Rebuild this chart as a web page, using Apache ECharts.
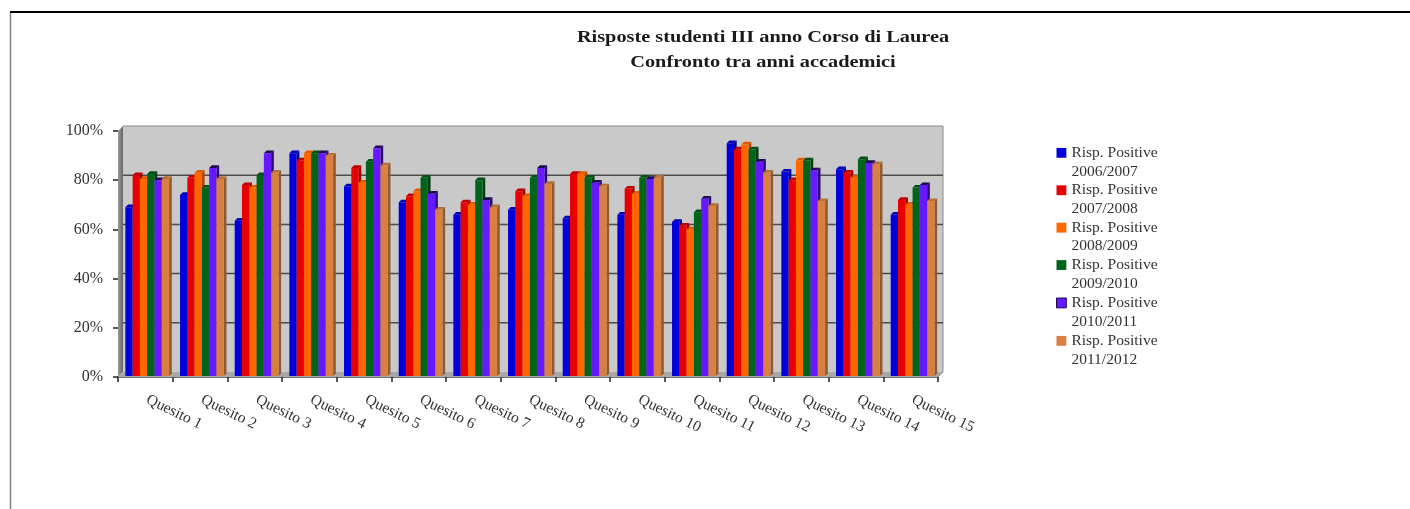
<!DOCTYPE html>
<html>
<head>
<meta charset="utf-8">
<title>Risposte studenti</title>
<script src="https://cdn.jsdelivr.net/npm/echarts@6/dist/echarts.min.js"></script>
<style>
html, body { margin: 0; padding: 0; background: #fff; }
#chart-container { width: 1410px; height: 509px; }
</style>
</head>
<body>
<div id="chart-container"></div>
<script>
var categories = ['Quesito 1', 'Quesito 2', 'Quesito 3', 'Quesito 4', 'Quesito 5', 'Quesito 6', 'Quesito 7', 'Quesito 8', 'Quesito 9', 'Quesito 10', 'Quesito 11', 'Quesito 12', 'Quesito 13', 'Quesito 14', 'Quesito 15'];
var seriesNames = ['Risp. Positive\n2006/2007', 'Risp. Positive\n2007/2008', 'Risp. Positive\n2008/2009', 'Risp. Positive\n2009/2010', 'Risp. Positive\n2010/2011', 'Risp. Positive\n2011/2012'];
var titleLines = ['Risposte studenti III anno Corso di Laurea', 'Confronto tra anni accademici'];

var y2006 = [69, 74, 63.5, 91, 77.5, 71, 66, 68, 64.5, 66, 63, 95, 83.5, 84.5, 66];
var y2007 = [82, 81, 78, 88, 85, 73.5, 71, 75.5, 82.5, 76.5, 61.5, 92.5, 80, 83, 72];
var y2008 = [80.5, 83, 77, 91, 79, 75.5, 70, 73.5, 82.5, 74.5, 60, 94.5, 88, 81, 70];
var y2009 = [82.5, 77, 82, 91, 87.5, 81, 80, 81, 81, 81, 67, 92.5, 88, 88.5, 77];
var y2010 = [80, 85, 91, 91, 93, 74.5, 72, 85, 79, 80.5, 72.5, 87.5, 84, 87, 78];
var y2011 = [80.5, 80.5, 83, 90, 86, 68, 69, 78.5, 77.5, 81, 69.5, 83, 71.5, 86.5, 71.5];
var allValues = [y2006, y2007, y2008, y2009, y2010, y2011];

var frontColors = ['#0000dc', '#e60000', '#ff6600', '#00641a', '#6619ff', '#d98040'];
var sideColors = ['#000090', '#960000', '#b04600', '#003c10', '#2a0a70', '#8f5a30'];
var topColors = ['#0000b4', '#c00000', '#e05a00', '#005014', '#200858', '#b87038'];

var yTicks = [0, 20, 40, 60, 80, 100];
var depth = 5;      // offset of the back wall
var barDepth = 2.7; // offset of the bar's side faces
var serifFont = '"Liberation Serif", "DejaVu Serif", serif';

var chartDom = document.getElementById('chart-container');
var myChart = echarts.init(chartDom);

// walls, floor and gridlines of the fake 3d box
function renderWalls(params, api) {
    var bl = api.coord([0, 0]);
    var tl = api.coord([0, 100]);
    var halfCat = api.size([1, 0])[0] / 2;
    var x0 = bl[0] - halfCat;
    var x1 = api.coord([categories.length - 1, 0])[0] + halfCat;
    var y0 = bl[1];
    var y1 = tl[1];
    var children = [
        {
            type: 'polygon',
            shape: {points: [[x0 + depth, y1 - depth], [x1 + depth, y1 - depth], [x1 + depth, y0 - depth], [x0 + depth, y0 - depth]]},
            style: {fill: '#c9c9c9'}
        },
        {
            type: 'polygon',
            shape: {points: [[x0, y1], [x0 + depth, y1 - depth], [x0 + depth, y0 - depth], [x0, y0]]},
            style: {
                fill: new echarts.graphic.LinearGradient(0, 0, 1, 0, [
                    {offset: 0, color: '#9a9a9a'},
                    {offset: 1, color: '#666666'}
                ])
            }
        },
        {
            type: 'polygon',
            shape: {points: [[x0, y0], [x0 + depth, y0 - depth], [x1 + depth, y0 - depth], [x1, y0]]},
            style: {fill: '#a8a8a8'}
        },
        {
            type: 'polyline',
            shape: {points: [[x0 + depth, y1 - depth], [x1 + depth, y1 - depth], [x1 + depth, y0 - depth], [x1, y0]]},
            style: {stroke: '#8a8a8a', fill: null, lineWidth: 1}
        }
    ];
    yTicks.forEach(function (t) {
        if (t === 0 || t === 100) return;
        var y = api.coord([0, t])[1] - depth;
        children.push({
            type: 'line',
            shape: {x1: x0 + depth, y1: y, x2: x1 + depth, y2: y},
            style: {stroke: '#4d4d4d', lineWidth: 1.5}
        });
    });
    return {type: 'group', children: children};
}

function renderBar(idx) {
    return function (params, api) {
        var cat = api.value(0);
        var base = api.coord([cat, 0]);
        var top = api.coord([cat, api.value(1)]);
        var w = api.size([1, 0])[0] / 7.5;
        var x = base[0] + (idx - 3) * w + 1.9;
        var y0 = base[1] - 1;
        var y1 = top[1];
        return {
            type: 'group',
            children: [
                {
                    type: 'polygon',
                    shape: {points: [[x + w, y1], [x + w + barDepth, y1 - barDepth], [x + w + barDepth, y0 - barDepth], [x + w, y0]]},
                    style: {fill: sideColors[idx]}
                },
                {
                    type: 'polygon',
                    shape: {points: [[x, y1], [x + barDepth, y1 - barDepth], [x + w + barDepth, y1 - barDepth], [x + w, y1]]},
                    style: {fill: topColors[idx]}
                },
                {
                    type: 'rect',
                    shape: {x: x, y: y1, width: w, height: y0 - y1},
                    style: {fill: frontColors[idx]}
                }
            ]
        };
    };
}

var series = [{
    type: 'custom',
    silent: true,
    renderItem: renderWalls,
    data: [[0, 0]],
    z: 1
}];
allValues.forEach(function (values, idx) {
    series.push({
        name: seriesNames[idx],
        type: 'custom',
        renderItem: renderBar(idx),
        itemStyle: {color: frontColors[idx]},
        encode: {x: 0, y: 1},
        data: values.map(function (v, i) { return [i, v]; }),
        z: 2
    });
});

// title is stretched a bit, the original font runs wider than Liberation Serif
function titleLine(text, y) {
    return {
        type: 'text',
        x: 763,
        y: y,
        scaleX: 1.27,
        style: {
            text: text,
            fontFamily: serifFont,
            fontSize: 16,
            fontWeight: 'bold',
            fill: '#1a1a1a',
            align: 'center',
            verticalAlign: 'middle'
        }
    };
}

var option = {
    animation: false,
    backgroundColor: '#ffffff',
    legend: {
        orient: 'vertical',
        left: 1051,
        top: 138.5,
        itemWidth: 10,
        itemHeight: 37.4,
        itemGap: 0,
        selectedMode: false,
        textStyle: {
            fontFamily: serifFont,
            fontSize: 15.5,
            color: '#333333',
            lineHeight: 18.7
        },
        data: seriesNames.map(function (name, idx) {
            return {
                name: name,
                icon: 'path://M0 4.5H10V14.5H0ZM0 0M0 38',
                itemStyle: idx === 4 ? {borderColor: '#1a0a50', borderWidth: 1} : {borderWidth: 0}
            };
        })
    },
    grid: {
        left: 118,
        right: 472,
        top: 131,
        bottom: 132
    },
    xAxis: {
        type: 'category',
        data: categories,
        axisLine: {lineStyle: {color: '#444444', width: 1.5}},
        axisTick: {show: true, length: 5, lineStyle: {color: '#222222', width: 1.5}},
        axisLabel: {
            rotate: -26,
            interval: 0,
            margin: 21,
            padding: [0, 0, 0, 2],
            fontFamily: serifFont,
            fontSize: 15.5,
            color: '#333333'
        }
    },
    yAxis: {
        type: 'value',
        min: 0,
        max: 100,
        interval: 20,
        axisLine: {show: true, lineStyle: {color: '#444444', width: 1}},
        axisTick: {show: true, length: 5, lineStyle: {color: '#222222', width: 1.5}},
        splitLine: {show: false},
        axisLabel: {
            formatter: '{value}%',
            margin: 15,
            fontFamily: serifFont,
            fontSize: 16,
            color: '#333333'
        }
    },
    graphic: [
        {type: 'line', shape: {x1: 10, y1: 12, x2: 1410, y2: 12}, style: {stroke: '#000000', lineWidth: 2}},
        {type: 'line', shape: {x1: 10.5, y1: 13, x2: 10.5, y2: 509}, style: {stroke: '#808080', lineWidth: 1.5}},
        titleLine(titleLines[0], 38),
        titleLine(titleLines[1], 63)
    ],
    series: series
};

option && myChart.setOption(option);
</script>
</body>
</html>
